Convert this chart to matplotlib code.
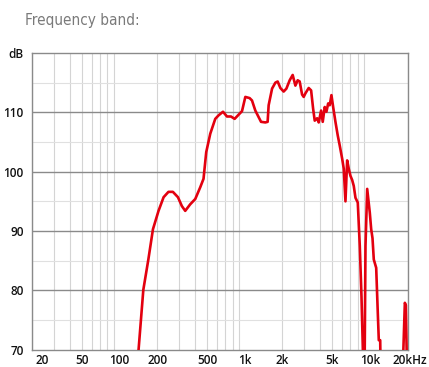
import matplotlib
matplotlib.use("Agg")
import matplotlib.pyplot as plt
import matplotlib.transforms as mtrans
from matplotlib.ticker import FixedLocator, NullFormatter

# frequency response (Hz, dB SPL)
freq_hz = [
    135, 142, 155, 170, 185, 205, 225, 246, 267, 293, 315, 335, 367, 403, 442, 469,
    493, 531, 582, 619, 671, 722, 777, 831, 894, 952, 1012, 1095, 1144, 1216,
    1292, 1351, 1462, 1525, 1554, 1655, 1758, 1834, 1928, 2048, 2154, 2288,
    2418, 2541, 2651, 2750, 2874, 2960, 3055, 3246, 3394, 3522, 3627, 3790,
    3904, 4079, 4202, 4360, 4498, 4642, 4780, 4932, 5090, 5309, 5539, 5746,
    6006, 6186, 6383, 6586, 6783, 6998, 7220, 7436, 7674, 8006, 8306, 8570,
    8842, 9057, 9226, 9520, 9986, 10246, 10496, 10748, 11234, 11570, 11786,
    12094, 12228, 18142, 19032, 19386, 19890,
]
level_db = [
    63, 70, 80.1, 85.2, 90.3, 93.4, 95.7, 96.6, 96.6, 95.7, 94.2, 93.4, 94.5, 95.4, 97.4, 98.8,
    103.3, 106.4, 108.9, 109.5, 110.1, 109.3, 109.3, 108.9, 109.6, 110.2, 112.6, 112.4, 112.0, 110.3,
    109.2, 108.4, 108.3, 108.4, 111.2, 114.0, 115.0, 115.2, 114.1, 113.5, 114.0, 115.4,
    116.3, 114.5, 115.4, 115.2, 113.0, 112.6, 113.2, 114.1, 113.7, 110.6, 108.6, 109.0,
    108.3, 110.3, 108.4, 110.9, 110.1, 111.5, 111.2, 112.9, 110.9, 108.4, 106.1, 104.4,
    102.2, 100.5, 95.0, 101.9, 100.5, 99.3, 98.6, 97.6, 95.6, 94.8, 87.5, 79.0,
    68, 64, 87.5, 97.1, 93.1, 90.3, 88.8, 85.2, 83.8, 76.2, 71.6,
    71.6, 64, 64, 77.9, 77.5, 64,
]

x_ticks = [20, 50, 100, 200, 500, 1000, 2000, 5000, 10000, 20000]
x_labels = ["20", "50", "100", "200", "500", "1k", "2k", "5k", "10k", "20kHz"]
y_ticks = [70, 80, 90, 100, 110, 120]
y_labels = ["70", "80", "90", "100", "110", "dB"]

minor_x = [m * d for d in (10, 100, 1000, 10000) for m in range(2, 10)]
minor_x = [f for f in minor_x if 20 <= f <= 20000]
minor_y = [75, 85, 95, 105, 115]

plt.rcParams["font.family"] = ["Open Sans", "DejaVu Sans"]

fig = plt.figure(figsize=(4.29, 3.67), dpi=100)
ax = fig.add_axes([0.0746, 0.0471, 0.8754, 0.8085])

ax.set_xscale("log")
ax.set_xlim(20, 20000)
ax.set_ylim(70, 120)

# light grid at every frequency step and at 5 dB, darker at 10 dB
for f in minor_x:
    ax.axvline(f, color="#d4d4d4", linewidth=0.8, zorder=1)
for v in minor_y:
    ax.axhline(v, color="#e0e0e0", linewidth=0.8, zorder=1)
for v in y_ticks[1:-1]:
    ax.axhline(v, color="#8a8a8a", linewidth=1.0, zorder=1)

ax.plot(freq_hz, level_db, color="#e3000f", linewidth=1.9, zorder=3,
        solid_joinstyle="round", solid_capstyle="round")

for s in ax.spines.values():
    s.set_color("#8a8a8a")
    s.set_linewidth(1.0)

ax.xaxis.set_major_locator(FixedLocator(x_ticks))
ax.xaxis.set_minor_locator(FixedLocator([]))
ax.xaxis.set_minor_formatter(NullFormatter())
ax.set_xticklabels(x_labels)
ax.set_yticks(y_ticks)
ax.set_yticklabels(y_labels)
ax.tick_params(axis="both", length=0, labelsize=8.5, colors="#111111")
ax.tick_params(axis="x", pad=3)
ax.tick_params(axis="y", pad=6)

for lab in ax.get_xticklabels() + ax.get_yticklabels():
    lab.set_fontweight("semibold")

# nudge the end labels inward
xl = ax.get_xticklabels()
xl[0].set_horizontalalignment("left")
xl[-1].set_horizontalalignment("left")
xl[0].set_transform(xl[0].get_transform()
                    + mtrans.ScaledTranslation(3 / 100, 0, fig.dpi_scale_trans))
xl[-1].set_transform(xl[-1].get_transform()
                     + mtrans.ScaledTranslation(-15 / 100, 0, fig.dpi_scale_trans))

fig.text(25 / 429, 1 - 20 / 367, "Frequency band:", color="#7a7a7a",
         fontsize=11, va="center", ha="left", fontstretch="condensed",
         family=["DejaVu Sans"])

fig.savefig("out.png", dpi=100)
